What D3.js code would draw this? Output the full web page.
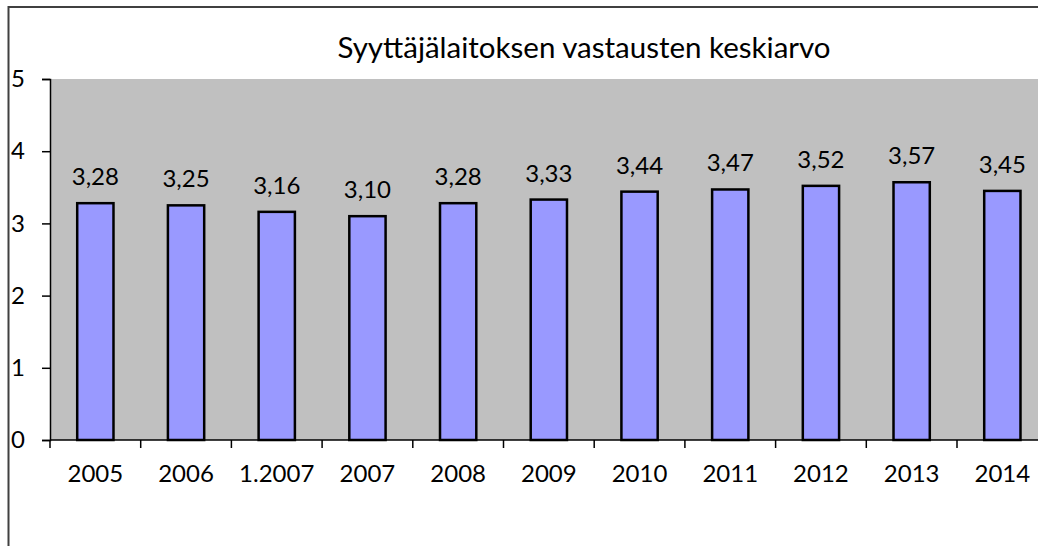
<!DOCTYPE html>
<html>
<head>
<meta charset="utf-8">
<script src="https://cdn.jsdelivr.net/npm/d3@7"></script>
<style>
  body { margin: 0; background: #fff; }
  svg { display: block; font-family: Lato, "Open Sans", sans-serif; }
</style>
</head>
<body>
<svg id="chart"></svg>
<script>
const categories = ["2005", "2006", "1.2007", "2007", "2008", "2009", "2010", "2011", "2012", "2013", "2014"];
const values = [3.28, 3.25, 3.16, 3.10, 3.28, 3.33, 3.44, 3.47, 3.52, 3.57, 3.45];
const yTicks = [0, 1, 2, 3, 4, 5];
const title = "Syyttäjälaitoksen vastausten keskiarvo";

const width = 1038, height = 546;
const margin = { top: 79, left: 50 };
const plotBottom = 440;
const bandW = 90.7;

const svg = d3.select("#chart").attr("width", width).attr("height", height);

// outer chart border (cropped at right/bottom)
svg.append("rect")
  .attr("x", 8.5).attr("y", 7)
  .attr("width", width + 20).attr("height", height + 20)
  .attr("fill", "none").attr("stroke", "#404040").attr("stroke-width", 2);

const x = d3.scaleBand()
  .domain(categories)
  .range([margin.left, margin.left + bandW * categories.length])
  .paddingInner(0.6).paddingOuter(0.3);

const y = d3.scaleLinear().domain([0, 5]).range([plotBottom, margin.top]);

// plot area
svg.append("rect")
  .attr("x", margin.left).attr("y", margin.top)
  .attr("width", width - margin.left).attr("height", plotBottom - margin.top)
  .attr("fill", "#c0c0c0");

// title
svg.append("text")
  .attr("x", 584).attr("y", 58)
  .attr("text-anchor", "middle")
  .attr("font-size", 29.5)
  .text(title);

// bars
svg.append("g")
  .selectAll("rect")
  .data(values)
  .join("rect")
  .attr("x", (d, i) => x(categories[i]))
  .attr("y", d => y(d))
  .attr("width", x.bandwidth())
  .attr("height", d => y(0) - y(d))
  .attr("fill", "#9999ff")
  .attr("stroke", "#000")
  .attr("stroke-width", 2.5);

// value labels
const fmt = d => d.toFixed(2).replace(".", ",");
svg.append("g")
  .selectAll("text")
  .data(values)
  .join("text")
  .attr("x", (d, i) => x(categories[i]) + x.bandwidth() / 2)
  .attr("y", d => y(d) - 18)
  .attr("text-anchor", "middle")
  .attr("font-size", 24)
  .text(fmt);

// y axis
const yAxis = svg.append("g")
  .attr("transform", `translate(${margin.left},0)`)
  .call(d3.axisLeft(y).tickValues(yTicks).tickFormat(d3.format("d")).tickSize(8).tickPadding(17));
yAxis.selectAll("text").attr("font-size", 24).attr("font-family", "Lato, sans-serif").attr("fill", "#000");
yAxis.select(".domain").attr("stroke", "#000").attr("stroke-width", 1.5);
yAxis.selectAll(".tick line").attr("stroke", "#000").attr("stroke-width", 1.5);

// x axis with ticks on band boundaries
const xAxisScale = d3.scaleLinear().domain([0, categories.length]).range(x.range());
const xAxis = svg.append("g")
  .attr("transform", `translate(0,${plotBottom})`);
xAxis.append("line")
  .attr("x1", margin.left).attr("x2", width)
  .attr("stroke", "#000").attr("stroke-width", 1.5);
xAxis.selectAll("line.tk")
  .data(d3.range(categories.length + 1))
  .join("line")
  .attr("class", "tk")
  .attr("x1", d => xAxisScale(d)).attr("x2", d => xAxisScale(d))
  .attr("y1", 0).attr("y2", 8)
  .attr("stroke", "#000").attr("stroke-width", 1.5);
xAxis.selectAll("text")
  .data(categories)
  .join("text")
  .attr("x", d => x(d) + x.bandwidth() / 2)
  .attr("y", 42)
  .attr("text-anchor", "middle")
  .attr("font-size", 24)
  .text(d => d);
</script>
</body>
</html>
